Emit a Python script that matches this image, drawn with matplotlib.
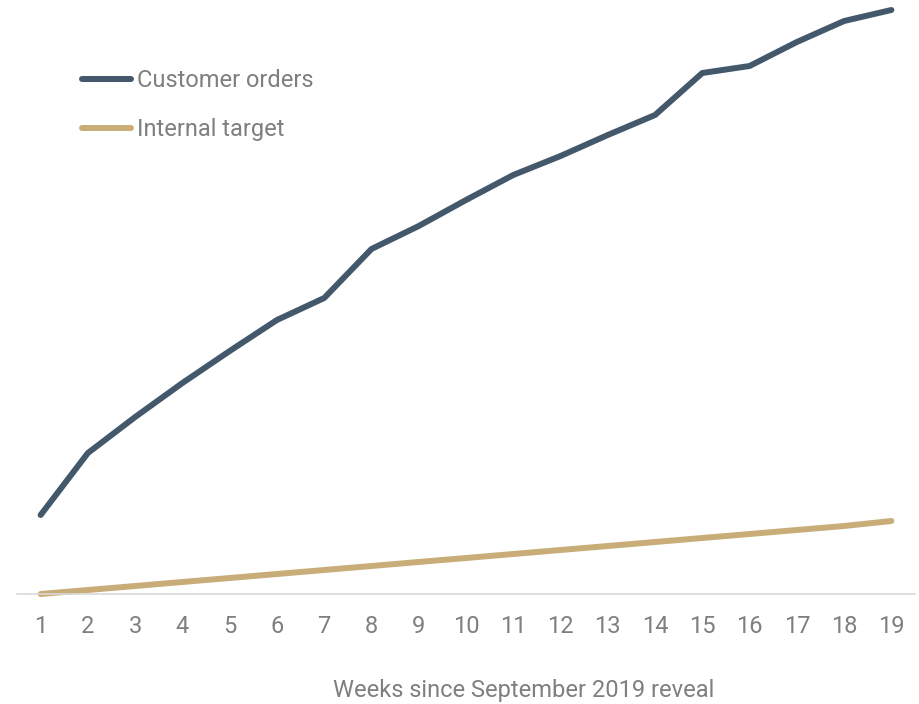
import matplotlib.pyplot as plt

weeks = list(range(1, 20))
customer_orders = [79, 141, 177, 211, 243, 274, 296, 345, 368, 394,
                   419, 438, 459, 479, 521, 528, 552, 573, 584]
internal_target = [0, 4, 8, 12, 16, 20, 24, 28, 32, 36,
                   40, 44, 48, 52, 56, 60, 64, 68, 73]

TEXT = '#7f7f7f'
plt.rcParams['font.family'] = ['Roboto', 'DejaVu Sans']

fig = plt.figure(figsize=(9.2, 7.04), dpi=100)
ax = fig.add_axes([17 / 920, 110 / 704, 898 / 920, 594 / 704])

ax.plot(weeks, customer_orders, color='#44586c', lw=4.3,
        solid_capstyle='round', solid_joinstyle='round', label='Customer orders')
ax.plot(weeks, internal_target, color='#c8ad78', lw=4.3,
        solid_capstyle='round', solid_joinstyle='round', label='Internal target')

ax.set_xlim(0.5, 19.5)
ax.set_ylim(0, 594)
ax.set_xticks(weeks)
ax.tick_params(axis='x', length=0, pad=15, labelsize=17, labelcolor=TEXT)
ax.set_yticks([])
for side in ['top', 'right', 'left']:
    ax.spines[side].set_visible(False)
ax.spines['bottom'].set_color('#d9d9d9')
ax.spines['bottom'].set_linewidth(1.2)
for line in ax.lines:
    line.set_clip_on(False)

fig.text(524 / 920, 1 - 690 / 704, 'Weeks since September 2019 reveal',
         fontsize=17, color=TEXT, ha='center', va='center')

ax.legend(loc='upper left', bbox_to_anchor=(0.049, 0.92), frameon=False,
          fontsize=17, handlelength=2.05, handletextpad=0.25,
          labelspacing=1.11, labelcolor=TEXT)

fig.savefig('out.png', dpi=100)
